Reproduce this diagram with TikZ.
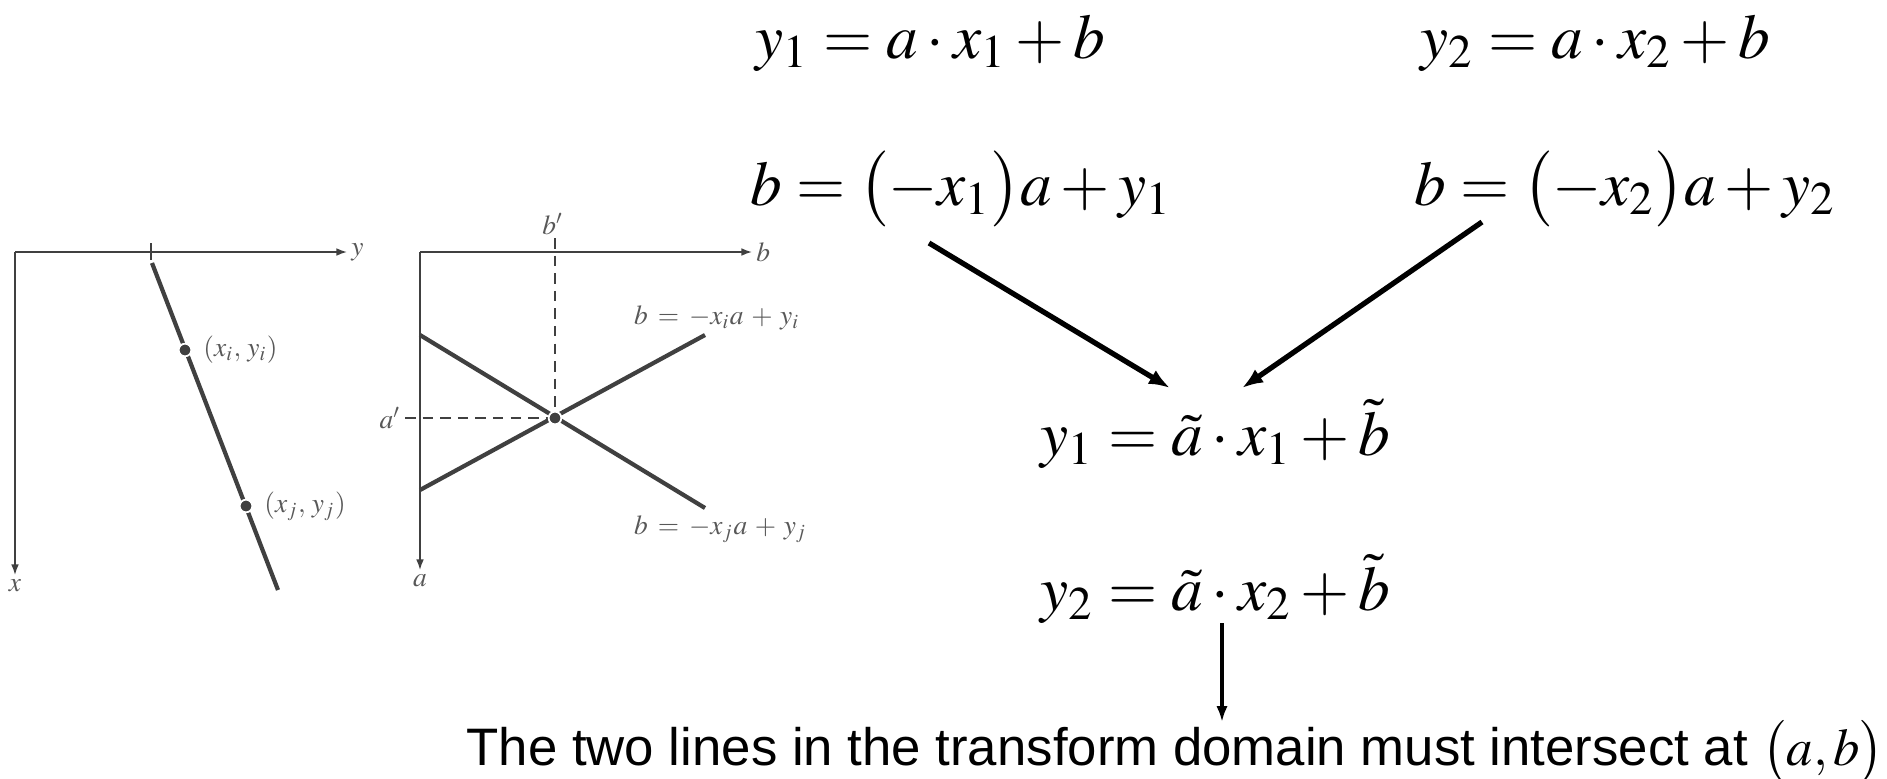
\documentclass[tikz,border=0pt]{standalone}
\usepackage{mathptmx}
\usepackage[no-math]{fontspec}
\setmainfont{Liberation Serif}
\setsansfont{Liberation Sans}
\usetikzlibrary{arrows.meta, positioning, calc}
\definecolor{figgray}{RGB}{64,64,64}
\definecolor{labgray}{RGB}{88,88,88}

\begin{document}
\begin{tikzpicture}[x=0.01cm, y=-0.01cm,
  axis/.style={figgray, line width=0.45pt, -{Latex[length=3pt,width=2.2pt]}},
  curve/.style={figgray, line width=1.2pt},
  guide/.style={figgray, line width=0.45pt, dash pattern=on 3pt off 2pt},
  lab/.style={labgray, inner sep=1pt, font=\fontsize{7.8}{9}\selectfont},
  pt/.style={circle, fill=figgray, draw=white, line width=0.5pt, inner sep=0pt, minimum size=3.6pt},
  eq/.style={anchor=base west, inner sep=0pt, font=\fontsize{18}{22}\selectfont},
  conn/.style={line width=1.5pt, -{Latex[length=6pt,width=4.5pt]}},
  thinconn/.style={line width=0.9pt, -{Latex[length=4.5pt,width=3.2pt]}}]
  \useasboundingbox (0,0) rectangle (1887,778);

  % image plane (x,y)
  \coordinate (o1) at (15,252);
  \draw[axis] (o1) -- (347,252) node[lab, right] (ly) {$y$};
  \draw[axis] (o1) -- (15,575) node[lab, below] (lx) {$x$};
  \draw[figgray, line width=0.45pt] (151,243) -- (151,260);
  \draw[curve] (152,263) -- (278,590);
  \node[pt] (pi) at (185,350) {};
  \node[pt] (pj) at (246,506) {};
  \node[lab, right=2pt of pi] (lpi) {$(x_i,\,y_i)$};
  \node[lab, right=2pt of pj] (lpj) {$(x_j,\,y_j)$};

  % parameter space (a,b)
  \coordinate (o2) at (420,252);
  \node[pt] (cross) at (555,418) {};
  \draw[guide] (555,238) -- (cross.center);
  \draw[guide] (405,418) -- (cross.center);
  \draw[axis] (o2) -- (752,252) node[lab, right] (lb) {$b$};
  \draw[axis] (o2) -- (420,570) node[lab, below] (la) {$a$};
  \draw[curve] (420,335) -- (705,508);
  \draw[curve] (420,490) -- (705,335);
  \node[pt] at (cross) {};
  \node[lab] (lbp) at (553,224) {$b'$};
  \node[lab, left] (lap) at (405,418) {$a'$};
  \node[lab, anchor=base west] (li) at (630,324) {$b\:=\:-x_i a\:+\:y_i$};
  \node[lab, anchor=base west] (lj) at (630,534) {$b\:=\:-x_j a\:+\:y_j$};

  % equations
  \node[eq] (e1) at (755,58) {$y_1 = a\cdot x_1 + b$};
  \node[eq] (e2) at (1420,58) {$y_2 = a\cdot x_2 + b$};
  \node[eq] (e3) at (750,205) {$b = \bigl(-x_1\bigr)a + y_1$};
  \node[eq] (e4) at (1414,205) {$b = \bigl(-x_2\bigr)a + y_2$};
  \node[eq] (e5) at (1040,455) {$y_1 = \tilde{a}\cdot x_1 + \tilde{b}$};
  \node[eq] (e6) at (1040,610) {$y_2 = \tilde{a}\cdot x_2 + \tilde{b}$};
  \node[anchor=base west, inner sep=0pt, font=\sffamily\fontsize{15}{18}\selectfont] (note) at (466,765)
    {The two lines in the transform domain must intersect at $\bigl(a,b\bigr)$};

  % arrows
  \draw[conn] ($(e3.base west)+(179,38)$) -- ($(e5.base west)+(130,-67)$);
  \draw[conn] ($(e4.base west)+(68,17)$) -- ($(e5.base west)+(202,-67)$);
  \draw[thinconn] ($(e6.base west)+(182,13)$) -- ($(note.base west)+(756,-43)$);
\end{tikzpicture}
\end{document}
